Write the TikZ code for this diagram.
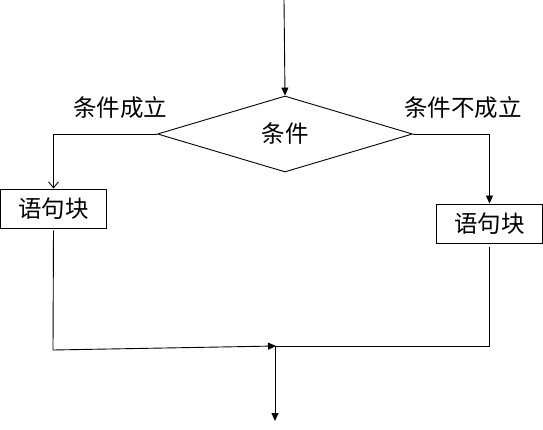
\documentclass[tikz,border=0pt]{standalone}
\usepackage{fontspec}
\setmainfont{Noto Sans CJK SC}
\usepackage{tikz}
\usetikzlibrary{
	arrows.meta,
	positioning,
	calc,
	shapes.geometric
}
\usepackage{xcolor}

\begin{document}
\begin{tikzpicture}[x=1pt,y=-1pt,>={Triangle[length=8pt,width=7pt]},line width=0.9pt,
	block/.style={draw,rectangle,minimum width=106pt,minimum height=39pt,inner sep=0pt,font=\fontsize{23.5}{26}\selectfont},
	cond/.style={draw,diamond,aspect=3.36,minimum width=255pt,minimum height=76pt,inner sep=0pt,font=\fontsize{23.5}{26}\selectfont},
	lbl/.style={font=\fontsize{23.5}{26}\selectfont,inner sep=0pt}]
		
		\useasboundingbox (0,0) rectangle (543,430);
		
		% condition
		\coordinate (start) at (284,0);
		\node[cond] (cond) at (285,134) {条件};
		\draw[->] (start) -- (cond.north);
		
		% branch labels
		\node[lbl] (yes) at (120,108) {条件成立};
		\node[lbl] (no) at (463,108) {条件不成立};
		
		% statement blocks
		\node[block] (blockL) at (53.5,208.5) {语句块};
		\node[block] (blockR) at (489.5,223.5) {语句块};
		
		\draw[-{Straight Barb[length=6pt,width=10pt]}] (cond.west) -| (blockL.north);
		\draw[->] (cond.east) -| (blockR.north);
		
		% merge
		\coordinate (cornerL) at (53,350);
		\coordinate (join) at (276,346);
		\coordinate (end) at (275,421);
		\draw[->,shorten <=2pt] (blockL.south) -- (cornerL) -- (join);
		\draw[shorten <=4pt] (blockR.south) |- (join);
		\draw[->] (join -| end) -- (end);
		
	\end{tikzpicture}
\end{document}
